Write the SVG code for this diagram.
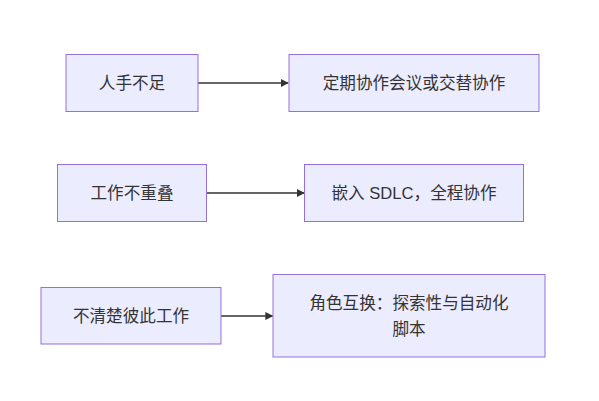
<svg xmlns="http://www.w3.org/2000/svg" width="599" height="401" viewBox="0 0 599 401">
<style>
.node rect{fill:#ECECFF;stroke:#9370DB;stroke-width:1}
.node text{font-family:"Liberation Sans","Noto Sans CJK SC",sans-serif;font-size:16.6px;fill:#333;text-anchor:middle;dominant-baseline:central}
.edge{stroke:#333;stroke-width:1.5;fill:none}
</style>
<defs>
<marker id="arr" viewBox="0 0 10 10" refX="9" refY="5" markerWidth="8" markerHeight="8" markerUnits="userSpaceOnUse" orient="auto">
<path d="M0,0 L10,5 L0,10 z" fill="#333"/>
</marker>
</defs>
<rect width="599" height="401" fill="#fff"/>
<g id="connectors">
<path class="edge" d="M198,83 L288,83" marker-end="url(#arr)"/>
<path class="edge" d="M207,193 L304,193" marker-end="url(#arr)"/>
<path class="edge" d="M221,316 L272.5,316" marker-end="url(#arr)"/>
</g>
<g id="n1" class="node"><rect x="66" y="54.5" width="132" height="57"/><text x="132" y="83">人手不足</text></g>
<g id="n2" class="node"><rect x="289" y="54.5" width="250" height="57"/><text x="414" y="83">定期协作会议或交替协作</text></g>
<g id="n3" class="node"><rect x="57.5" y="164.5" width="149" height="57"/><text x="132" y="193">工作不重叠</text></g>
<g id="n4" class="node"><rect x="304.5" y="164.5" width="219" height="57"/><text x="414" y="193">嵌入 SDLC，全程协作</text></g>
<g id="n5" class="node"><rect x="41" y="287.5" width="180" height="56.5"/><text x="131" y="316">不清楚彼此工作</text></g>
<g id="n6" class="node"><rect x="273" y="274.5" width="272" height="82.5"/><text x="409" y="303">角色互换：探索性与自动化</text><text x="409" y="329">脚本</text></g>
</svg>
